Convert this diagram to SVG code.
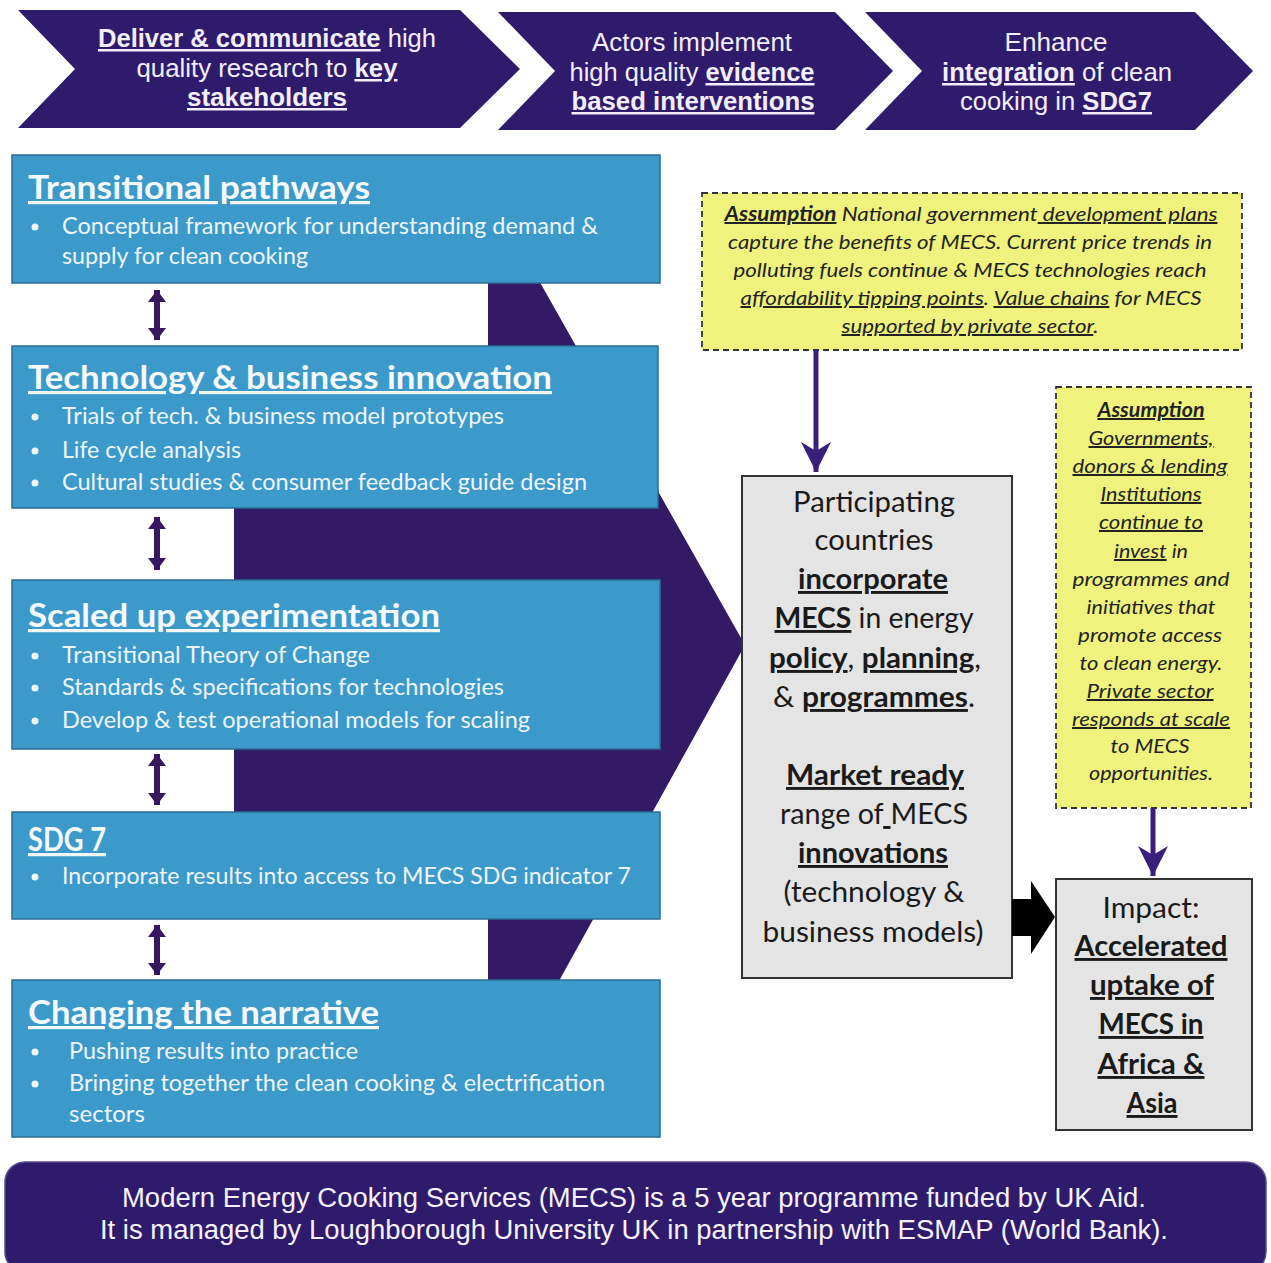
<svg xmlns="http://www.w3.org/2000/svg" width="1271" height="1263" viewBox="0 0 1271 1263">
<defs>
<style>
.chev{fill:#2f1b6b;}
.chevtxt{font-family:"Liberation Sans",Arial,sans-serif;font-size:25px;fill:#f3eefc;text-anchor:middle;}
.b{font-weight:bold;}
.u{text-decoration:underline;}
.blue{fill:#3c9acb;stroke:#2a6d97;stroke-width:1.5;}
.title{font-family:Lato,"Noto Sans",sans-serif;font-size:32px;font-weight:bold;fill:#f4f9fd;text-decoration:underline;}
.bul{font-family:Lato,"Noto Sans",sans-serif;font-size:23.5px;fill:#eef6fb;}
.dot{fill:#eef6fb;}
.yel{fill:#eff27c;stroke:#333;stroke-width:1.8;stroke-dasharray:6 4;}
.ytxt{font-family:Lato,"Noto Sans",sans-serif;font-size:20px;font-style:italic;fill:#222;text-anchor:middle;}
.grey{fill:#e4e4e4;stroke:#333;stroke-width:2;}
.gtxt{font-family:Lato,"Noto Sans",sans-serif;font-size:29px;fill:#1a1a1a;text-anchor:middle;}
.itxt{font-family:Lato,"Noto Sans",sans-serif;font-size:29px;fill:#1a1a1a;text-anchor:middle;}
.ftxt{font-family:"Liberation Sans",Arial,sans-serif;font-size:27px;fill:#f6f2fc;text-anchor:middle;}
.dbl{stroke:#35185f;stroke-width:6;fill:none;}
.down{stroke:#3a1f7a;stroke-width:5;fill:none;}
</style>
<marker id="dblhead" viewBox="0 0 12 18" refX="12" refY="9" markerWidth="12" markerHeight="18" markerUnits="userSpaceOnUse" orient="auto-start-reverse">
<path d="M0,0 L12,9 L0,18 Z" fill="#35185f"/>
</marker>
<marker id="stealth" viewBox="0 0 30 30" refX="30" refY="15" markerWidth="30" markerHeight="30" markerUnits="userSpaceOnUse" orient="auto">
<path d="M0,0 L30,15 L0,30 L9,15 Z" fill="#3a1f7a"/>
</marker>
</defs>
<rect width="1271" height="1263" fill="#ffffff"/>

<g id="chevron-1">
<polygon class="chev" points="18,10 460,10 520,69 460,128 18,128 75,69"/>
<text class="chevtxt" x="267" y="47" textLength="338" lengthAdjust="spacingAndGlyphs"><tspan class="b u">Deliver &amp; communicate</tspan> high</text>
<text class="chevtxt" x="267" y="77" textLength="261" lengthAdjust="spacingAndGlyphs">quality research to <tspan class="b u">key</tspan></text>
<text class="chevtxt" x="267" y="106" textLength="160" lengthAdjust="spacingAndGlyphs"><tspan class="b u">stakeholders</tspan></text>
</g>
<g id="chevron-2">
<polygon class="chev" points="498,12 835,12 893,71 835,130 498,130 555,71"/>
<text class="chevtxt" x="692" y="51" textLength="200" lengthAdjust="spacingAndGlyphs">Actors implement</text>
<text class="chevtxt" x="692" y="81" textLength="245" lengthAdjust="spacingAndGlyphs">high quality <tspan class="b u">evidence</tspan></text>
<text class="chevtxt" x="693" y="110" textLength="243" lengthAdjust="spacingAndGlyphs"><tspan class="b u">based interventions</tspan></text>
</g>
<g id="chevron-3">
<polygon class="chev" points="865,12 1195,12 1253,71 1195,130 865,130 922,71"/>
<text class="chevtxt" x="1056" y="51" textLength="103" lengthAdjust="spacingAndGlyphs">Enhance</text>
<text class="chevtxt" x="1057" y="81" textLength="230" lengthAdjust="spacingAndGlyphs"><tspan class="b u">integration</tspan> of clean</text>
<text class="chevtxt" x="1056" y="110" textLength="192" lengthAdjust="spacingAndGlyphs">cooking in <tspan class="b u">SDG7</tspan></text>
</g>

<g id="flow-arrow">
<polygon fill="#331a66" points="488,270 533,270 745,645 554,990 488,990 488,860 234,860 234,430 488,430"/>
</g>

<g id="transitional-pathways">
<rect class="blue" x="12" y="155" width="648" height="128"/>
<text class="title" x="28" y="199" textLength="342" lengthAdjust="spacingAndGlyphs">Transitional pathways</text>
<circle class="dot" cx="35" cy="227" r="3.5"/>
<text class="bul" x="62" y="234" textLength="536" lengthAdjust="spacingAndGlyphs">Conceptual framework for understanding demand &amp;</text>
<text class="bul" x="62" y="264" textLength="246" lengthAdjust="spacingAndGlyphs">supply for clean cooking</text>
</g>
<g id="tech-business-innovation">
<rect class="blue" x="12" y="346" width="646" height="162"/>
<text class="title" x="28" y="389" textLength="524" lengthAdjust="spacingAndGlyphs">Technology &amp; business innovation</text>
<circle class="dot" cx="35" cy="417" r="3.5"/>
<text class="bul" x="62" y="424" textLength="442" lengthAdjust="spacingAndGlyphs">Trials of tech. &amp; business model prototypes</text>
<circle class="dot" cx="35" cy="451" r="3.5"/>
<text class="bul" x="62" y="458" textLength="179" lengthAdjust="spacingAndGlyphs">Life cycle analysis</text>
<circle class="dot" cx="35" cy="483" r="3.5"/>
<text class="bul" x="62" y="490" textLength="525" lengthAdjust="spacingAndGlyphs">Cultural studies &amp; consumer feedback guide design</text>
</g>
<g id="scaled-up-experimentation">
<rect class="blue" x="12" y="580" width="648" height="169"/>
<text class="title" x="28" y="627" textLength="412" lengthAdjust="spacingAndGlyphs">Scaled up experimentation</text>
<circle class="dot" cx="35" cy="656" r="3.5"/>
<text class="bul" x="62" y="663" textLength="308" lengthAdjust="spacingAndGlyphs">Transitional Theory of Change</text>
<circle class="dot" cx="35" cy="688" r="3.5"/>
<text class="bul" x="62" y="695" textLength="442" lengthAdjust="spacingAndGlyphs">Standards &amp; specifications for technologies</text>
<circle class="dot" cx="35" cy="721" r="3.5"/>
<text class="bul" x="62" y="728" textLength="468" lengthAdjust="spacingAndGlyphs">Develop &amp; test operational models for scaling</text>
</g>
<g id="sdg-7">
<rect class="blue" x="12" y="812" width="648" height="107"/>
<text class="title" x="28" y="851" textLength="78" lengthAdjust="spacingAndGlyphs">SDG 7</text>
<circle class="dot" cx="35" cy="877" r="3.5"/>
<text class="bul" x="62" y="884" textLength="569" lengthAdjust="spacingAndGlyphs">Incorporate results into access to MECS SDG indicator 7</text>
</g>
<g id="changing-the-narrative">
<rect class="blue" x="12" y="980" width="648" height="157"/>
<text class="title" x="28" y="1024" textLength="351" lengthAdjust="spacingAndGlyphs">Changing the narrative</text>
<circle class="dot" cx="35" cy="1052" r="3.5"/>
<text class="bul" x="69" y="1059" textLength="289" lengthAdjust="spacingAndGlyphs">Pushing results into practice</text>
<circle class="dot" cx="35" cy="1084" r="3.5"/>
<text class="bul" x="69" y="1091" textLength="536" lengthAdjust="spacingAndGlyphs">Bringing together the clean cooking &amp; electrification</text>
<text class="bul" x="69" y="1122" textLength="76" lengthAdjust="spacingAndGlyphs">sectors</text>
</g>

<g id="assumption-1">
<rect class="yel" x="702" y="193" width="540" height="157"/>
<text class="ytxt" x="971" y="221" textLength="493" lengthAdjust="spacingAndGlyphs"><tspan class="b u">Assumption</tspan> National government<tspan class="u"> development plans</tspan></text>
<text class="ytxt" x="970" y="249" textLength="484" lengthAdjust="spacingAndGlyphs">capture the benefits of MECS. Current price trends in</text>
<text class="ytxt" x="970" y="277" textLength="473" lengthAdjust="spacingAndGlyphs">polluting fuels continue &amp; MECS technologies reach</text>
<text class="ytxt" x="971" y="305" textLength="461" lengthAdjust="spacingAndGlyphs"><tspan class="u">affordability tipping points</tspan>. <tspan class="u">Value chains</tspan> for MECS</text>
<text class="ytxt" x="970" y="333" textLength="257" lengthAdjust="spacingAndGlyphs"><tspan class="u">supported by private sector</tspan>.</text>
</g>

<g id="participating-countries">
<rect class="grey" x="742" y="476" width="270" height="502"/>
<text class="gtxt" x="874" y="512" textLength="162" lengthAdjust="spacingAndGlyphs">Participating</text>
<text class="gtxt" x="874" y="550" textLength="119" lengthAdjust="spacingAndGlyphs">countries</text>
<text class="gtxt" x="873" y="589" textLength="150" lengthAdjust="spacingAndGlyphs"><tspan class="b u">incorporate</tspan></text>
<text class="gtxt" x="874" y="628" textLength="199" lengthAdjust="spacingAndGlyphs"><tspan class="b u">MECS</tspan> in energy</text>
<text class="gtxt" x="875" y="668" textLength="212" lengthAdjust="spacingAndGlyphs"><tspan class="b u">policy</tspan>, <tspan class="b u">planning</tspan>,</text>
<text class="gtxt" x="874" y="707" textLength="202" lengthAdjust="spacingAndGlyphs">&amp; <tspan class="b u">programmes</tspan>.</text>
<text class="gtxt" x="875" y="785" textLength="178" lengthAdjust="spacingAndGlyphs"><tspan class="b u">Market ready</tspan></text>
<text class="gtxt" x="874" y="824" textLength="188" lengthAdjust="spacingAndGlyphs">range of<tspan class="u"> </tspan>MECS</text>
<text class="gtxt" x="873" y="863" textLength="150" lengthAdjust="spacingAndGlyphs"><tspan class="b u">innovations</tspan></text>
<text class="gtxt" x="874" y="902" textLength="181" lengthAdjust="spacingAndGlyphs">(technology &amp;</text>
<text class="gtxt" x="873" y="942" textLength="221" lengthAdjust="spacingAndGlyphs">business models)</text>
</g>

<g id="assumption-2">
<rect class="yel" x="1056" y="387" width="195" height="421"/>
<text class="ytxt" x="1151" y="417" textLength="107" lengthAdjust="spacingAndGlyphs"><tspan class="b u">Assumption</tspan></text>
<text class="ytxt" x="1151" y="445" textLength="125" lengthAdjust="spacingAndGlyphs"><tspan class="u">Governments,</tspan></text>
<text class="ytxt" x="1150" y="473" textLength="155" lengthAdjust="spacingAndGlyphs"><tspan class="u">donors &amp; lending</tspan></text>
<text class="ytxt" x="1151" y="501" textLength="101" lengthAdjust="spacingAndGlyphs"><tspan class="u">Institutions</tspan></text>
<text class="ytxt" x="1151" y="529" textLength="104" lengthAdjust="spacingAndGlyphs"><tspan class="u">continue to</tspan></text>
<text class="ytxt" x="1151" y="558" textLength="74" lengthAdjust="spacingAndGlyphs"><tspan class="u">invest</tspan> in</text>
<text class="ytxt" x="1151" y="586" textLength="157" lengthAdjust="spacingAndGlyphs">programmes and</text>
<text class="ytxt" x="1151" y="614" textLength="129" lengthAdjust="spacingAndGlyphs">initiatives that</text>
<text class="ytxt" x="1150" y="642" textLength="144" lengthAdjust="spacingAndGlyphs">promote access</text>
<text class="ytxt" x="1151" y="670" textLength="143" lengthAdjust="spacingAndGlyphs">to clean energy.</text>
<text class="ytxt" x="1150" y="698" textLength="127" lengthAdjust="spacingAndGlyphs"><tspan class="u">Private sector</tspan></text>
<text class="ytxt" x="1151" y="726" textLength="158" lengthAdjust="spacingAndGlyphs"><tspan class="u">responds at scale</tspan></text>
<text class="ytxt" x="1150" y="753" textLength="79" lengthAdjust="spacingAndGlyphs">to MECS</text>
<text class="ytxt" x="1151" y="780" textLength="124" lengthAdjust="spacingAndGlyphs">opportunities.</text>
</g>

<g id="impact">
<rect class="grey" x="1056" y="879" width="196" height="251"/>
<text class="itxt" x="1151" y="918" textLength="97" lengthAdjust="spacingAndGlyphs">Impact:</text>
<text class="itxt" x="1151" y="956" textLength="153" lengthAdjust="spacingAndGlyphs"><tspan class="b u">Accelerated</tspan></text>
<text class="itxt" x="1152" y="995" textLength="124" lengthAdjust="spacingAndGlyphs"><tspan class="b u">uptake of</tspan></text>
<text class="itxt" x="1151" y="1034" textLength="105" lengthAdjust="spacingAndGlyphs"><tspan class="b u">MECS in</tspan></text>
<text class="itxt" x="1151" y="1074" textLength="107" lengthAdjust="spacingAndGlyphs"><tspan class="b u">Africa &amp;</tspan></text>
<text class="itxt" x="1152" y="1113" textLength="51" lengthAdjust="spacingAndGlyphs"><tspan class="b u">Asia</tspan></text>
</g>

<g id="connectors">
<line class="dbl" x1="157" y1="290" x2="157" y2="340" marker-start="url(#dblhead)" marker-end="url(#dblhead)"/>
<line class="dbl" x1="157" y1="517" x2="157" y2="570" marker-start="url(#dblhead)" marker-end="url(#dblhead)"/>
<line class="dbl" x1="157" y1="754" x2="157" y2="805" marker-start="url(#dblhead)" marker-end="url(#dblhead)"/>
<line class="dbl" x1="157" y1="925" x2="157" y2="975" marker-start="url(#dblhead)" marker-end="url(#dblhead)"/>
<line class="down" x1="816" y1="350" x2="816" y2="472" marker-end="url(#stealth)"/>
<line class="down" x1="1153" y1="808" x2="1153" y2="876" marker-end="url(#stealth)"/>
<polygon fill="#000" points="1012,899 1031,899 1031,881 1055,917 1031,954 1031,936 1012,936"/>
</g>

<g id="footer">
<rect x="5" y="1162" width="1261" height="110" rx="20" ry="20" fill="#2f1b6b" stroke="#5a4a90" stroke-width="1.5"/>
<text class="ftxt" x="634" y="1207" textLength="1024" lengthAdjust="spacingAndGlyphs">Modern Energy Cooking Services (MECS) is a 5 year programme funded by UK Aid.</text>
<text class="ftxt" x="634" y="1239" textLength="1068" lengthAdjust="spacingAndGlyphs">It is managed by Loughborough University UK in partnership with ESMAP (World Bank).</text>
</g>
</svg>
